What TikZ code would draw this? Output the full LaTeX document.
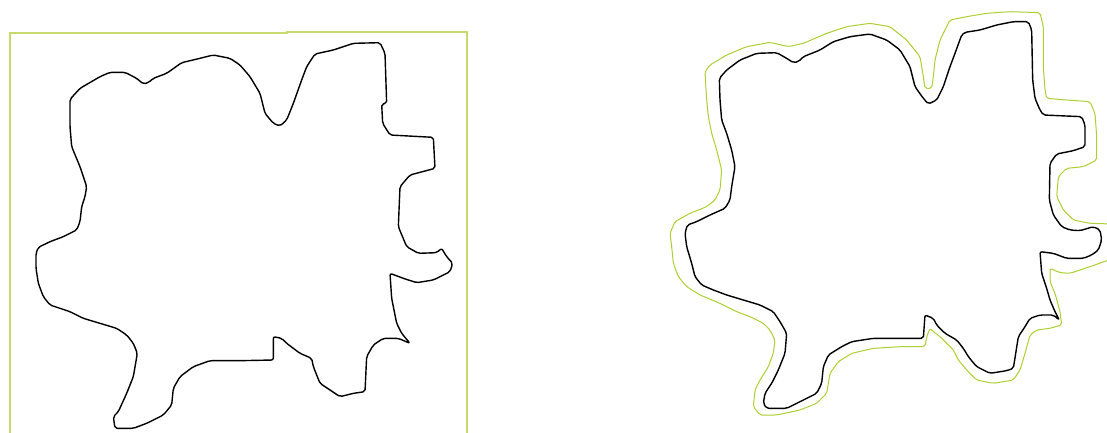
\documentclass[tikz,border=0pt]{standalone}
\begin{document}
\begin{tikzpicture}[x=1pt,y=-1pt,
  blob/.style={draw=black,line width=1.4pt,line join=round,rounded corners=2pt},
  halo/.style={draw=haloGreen,line width=1pt,line join=round,rounded corners=2pt},
  frame/.style={draw=frameGreen,line width=1.4pt}]
\definecolor{haloGreen}{RGB}{170,208,50}
\definecolor{frameGreen}{RGB}{200,218,110}
\useasboundingbox (0,0) rectangle (1107,432);
\clip (0,0) rectangle (1107,432);
\fill[white] (0,0) rectangle (1107,432);
% left frame
\draw[frame] (10,445) -- (10,33) -- (287,33) -- (287,32) -- (467,32) -- (467,445);
% left shape (coordinates at 3x)
\begin{scope}[scale=1/3]
\draw[blob] (210,298) -- (240,265) -- (300,230) -- (330,217) -- (375,217) -- (410,235) -- (430,252) -- (445,248) -- (460,235) -- (500,220) -- (545,188) -- (600,175) -- (640,165) -- (690,175) -- (720,195) -- (750,230) -- (780,280) -- (795,340) -- (820,370) -- (840,378) -- (860,360) -- (880,310) -- (905,240) -- (920,200) -- (945,162) -- (1000,150) -- (1060,130) -- (1140,128) -- (1155,160) -- (1160,310) -- (1145,312) -- (1148,370) -- (1170,405) -- (1300,412) -- (1305,505) -- (1230,525) -- (1200,560) -- (1195,680) -- (1220,740) -- (1255,760) -- (1310,758) -- (1325,745) -- (1340,770) -- (1358,790) -- (1350,815) -- (1300,840) -- (1250,848) -- (1210,835) -- (1170,820) -- (1175,895) -- (1190,970) -- (1205,1000) -- (1230,1030) -- (1195,1015) -- (1150,1015) -- (1120,1035) -- (1100,1070) -- (1095,1175) -- (1060,1180) -- (1020,1190) -- (990,1170) -- (960,1150) -- (940,1100) -- (935,1075) -- (900,1060) -- (860,1030) -- (845,1015) -- (820,1010) -- (820,1080) -- (720,1082) -- (630,1082) -- (580,1100) -- (540,1130) -- (520,1165) -- (515,1215) -- (490,1245) -- (440,1270) -- (400,1285) -- (345,1285) -- (340,1250) -- (355,1235) -- (380,1180) -- (400,1130) -- (412,1060) -- (400,1030) -- (380,1005) -- (350,985) -- (300,970) -- (250,955) -- (210,935) -- (150,915) -- (130,890) -- (115,850) -- (108,805) -- (108,760) -- (115,742) -- (150,725) -- (190,710) -- (230,690) -- (240,665) -- (245,620) -- (255,590) -- (260,560) -- (240,500) -- (215,440) -- (210,380) -- cycle;
\end{scope}
% right shape (coordinates at 3x, shifted)
\begin{scope}[shift={(660,0)},scale=1/3]
\draw[halo] (135,215) -- (150,195) -- (200,165) -- (260,140) -- (330,127) -- (385,140) -- (430,130) -- (500,100) -- (560,80) -- (630,70) -- (690,80) -- (740,120) -- (780,170) -- (790,230) -- (795,265) -- (815,265) -- (820,230) -- (825,180) -- (840,120) -- (870,60) -- (920,50) -- (980,40) -- (1050,35) -- (1140,38) -- (1150,80) -- (1150,200) -- (1155,270) -- (1160,295) -- (1220,300) -- (1290,305) -- (1305,340) -- (1310,410) -- (1310,480) -- (1270,500) -- (1220,505) -- (1195,530) -- (1190,590) -- (1210,630) -- (1240,660) -- (1290,670) -- (1360,672) -- (1360,775) -- (1290,800) -- (1230,820) -- (1200,818) -- (1170,805) -- (1170,845) -- (1185,880) -- (1200,935) -- (1205,975) -- (1170,985) -- (1130,990) -- (1110,1005) -- (1095,1060) -- (1080,1110) -- (1060,1140) -- (1000,1150) -- (950,1140) -- (920,1110) -- (895,1080) -- (880,1050) -- (860,1030) -- (840,1010) -- (820,995) -- (810,985) -- (800,1010) -- (795,1040) -- (720,1040) -- (640,1045) -- (575,1060) -- (535,1085) -- (510,1120) -- (500,1180) -- (470,1210) -- (420,1230) -- (350,1245) -- (300,1245) -- (280,1220) -- (285,1170) -- (300,1140) -- (325,1100) -- (340,1060) -- (345,1020) -- (330,990) -- (310,970) -- (270,950) -- (230,935) -- (180,910) -- (120,885) -- (80,860) -- (55,830) -- (40,790) -- (35,740) -- (30,700) -- (45,665) -- (90,640) -- (140,620) -- (165,600) -- (180,570) -- (185,510) -- (170,450) -- (155,400) -- (145,350) -- (140,300) -- (137,250) -- cycle;
\draw[blob] (178,235) -- (200,210) -- (240,180) -- (290,160) -- (350,158) -- (380,175) -- (400,188) -- (415,185) -- (430,170) -- (480,150) -- (520,125) -- (570,110) -- (630,102) -- (680,120) -- (720,150) -- (750,200) -- (765,260) -- (790,295) -- (805,312) -- (830,300) -- (850,260) -- (870,200) -- (885,160) -- (905,105) -- (915,97) -- (960,90) -- (1010,75) -- (1060,65) -- (1105,65) -- (1115,90) -- (1118,240) -- (1125,295) -- (1140,330) -- (1150,345) -- (1265,350) -- (1275,375) -- (1275,440) -- (1240,452) -- (1190,462) -- (1170,490) -- (1168,600) -- (1180,645) -- (1205,680) -- (1230,690) -- (1260,692) -- (1300,680) -- (1320,690) -- (1325,720) -- (1315,750) -- (1295,765) -- (1270,775) -- (1220,775) -- (1180,760) -- (1140,755) -- (1145,820) -- (1160,865) -- (1170,900) -- (1185,935) -- (1198,960) -- (1180,945) -- (1140,945) -- (1110,955) -- (1095,980) -- (1075,1010) -- (1060,1105) -- (1040,1112) -- (990,1120) -- (950,1100) -- (925,1070) -- (910,1045) -- (890,1020) -- (855,1000) -- (830,975) -- (820,955) -- (795,945) -- (790,1015) -- (720,1015) -- (640,1015) -- (575,1025) -- (545,1040) -- (505,1065) -- (490,1100) -- (485,1150) -- (470,1180) -- (430,1200) -- (380,1225) -- (320,1225) -- (310,1210) -- (315,1180) -- (335,1150) -- (355,1110) -- (375,1060) -- (380,1000) -- (360,965) -- (340,935) -- (300,915) -- (250,900) -- (200,885) -- (160,870) -- (125,855) -- (105,830) -- (95,790) -- (80,740) -- (75,700) -- (82,675) -- (110,665) -- (150,645) -- (195,625) -- (210,600) -- (215,560) -- (225,500) -- (215,450) -- (200,400) -- (185,360) -- (180,300) -- cycle;
\end{scope}
\end{tikzpicture}
\end{document}
